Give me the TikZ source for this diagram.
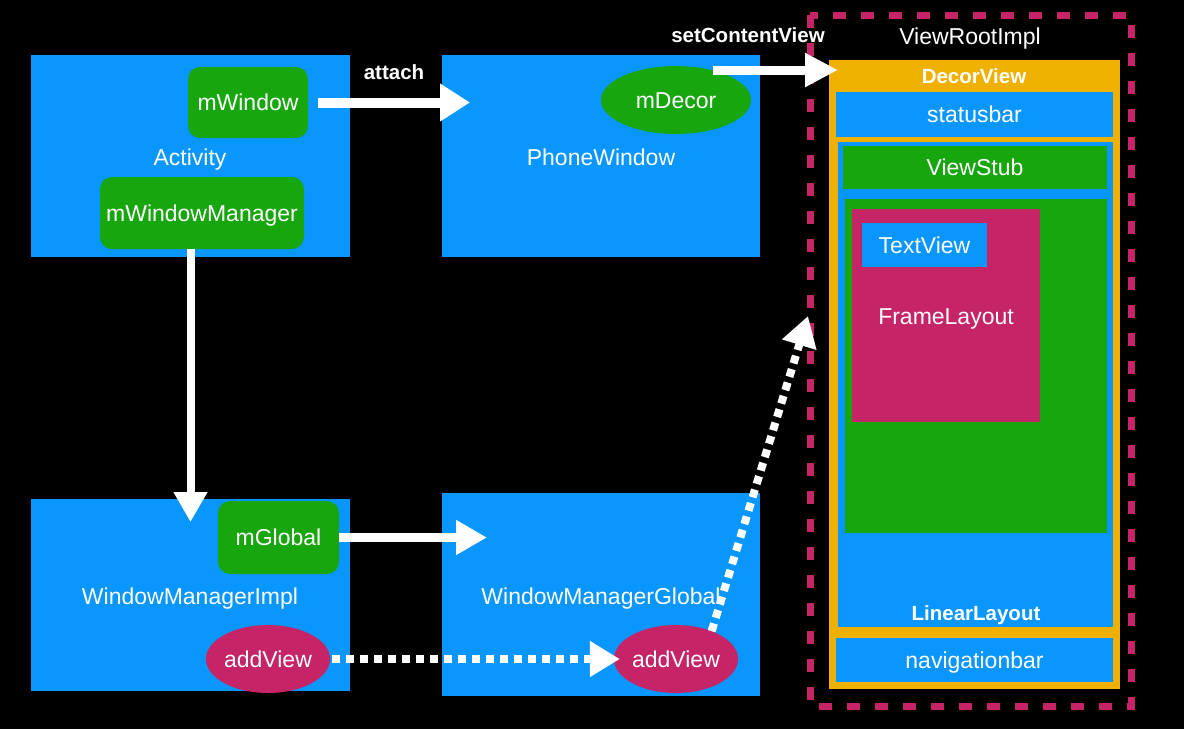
\documentclass[tikz,border=0pt]{standalone}
\usepackage{fontspec}
\setmainfont{Liberation Sans}
\usetikzlibrary{arrows.meta,shapes.geometric}
\definecolor{bblue}{RGB}{10,150,255}
\definecolor{bgreen}{RGB}{24,166,14}
\definecolor{bmag}{RGB}{197,36,102}
\definecolor{bgold}{RGB}{240,176,0}
\tikzset{
 txt/.style={text=white,font=\fontsize{23}{27}\selectfont,inner sep=0pt,outer sep=0pt,text height=17pt,text depth=0.5pt},
 btxt/.style={text=white,font=\fontsize{20.5}{24}\selectfont\bfseries,inner sep=0pt,outer sep=0pt,text height=15pt,text depth=0.3pt},
 bigbox/.style={fill=bblue,txt},
 member/.style={fill=bgreen,rounded corners=12pt,txt},
 oval/.style={ellipse,txt},
 flatrect/.style={inner sep=0pt,outer sep=0pt},
 bigarrow/.style={draw=white,line width=10pt,-{Triangle[length=30pt,width=36pt]}},
 dotarrow/.style={draw=white,line width=8pt,dash pattern=on 8pt off 6pt,-{Triangle[length=30pt,width=34pt]}},
 viewroot/.style={draw=bmag,line width=7pt,dash pattern=on 13pt off 15pt},
}
\begin{document}
\begin{tikzpicture}[x=1pt,y=-1pt]
\fill[black] (0,0) rectangle (1184,729);
\useasboundingbox (0,0) rectangle (1184,729);

% top row
\node[bigbox,minimum width=319pt,minimum height=202pt] (act) at (190.5,156) {};
\node[txt] (actlbl) at (190,157) {Activity};
\node[member,minimum width=120pt,minimum height=71pt] (mwin) at (248,102.5) {mWindow};
\node[member,minimum width=204pt,minimum height=72pt] (mwm) at (202,213) {mWindowManager};

\node[bigbox,minimum width=318pt,minimum height=202pt] (pw) at (601,156) {};
\node[txt] (pwlbl) at (601,157) {PhoneWindow};
\node[oval,fill=bgreen,minimum width=150pt,minimum height=68pt] (mdecor) at (676,100) {mDecor};

% bottom row
\node[bigbox,minimum width=319pt,minimum height=192pt] (wmi) at (190.5,595) {};
\node[txt] (wmilbl) at (190,596) {WindowManagerImpl};
\node[member,minimum width=121pt,minimum height=73pt] (mg) at (278.5,537.5) {mGlobal};
\node[oval,fill=bmag,minimum width=120pt,minimum height=68pt] (av1) at (268,659) {addView};

\node[bigbox,minimum width=318pt,minimum height=203pt] (wmg) at (601,594.5) {};
\node[txt] (wmglbl) at (601,596) {WindowManagerGlobal};
\node[oval,fill=bmag,minimum width=120pt,minimum height=68pt] (av2) at (676,659) {addView};

% view hierarchy
\node[flatrect,fill=bgold,minimum width=291pt,minimum height=629pt] (decor) at (974.5,374.5) {};
\node[btxt] (decorlbl) at (974,76) {DecorView};
\node[flatrect,fill=bblue,minimum width=277pt,minimum height=45pt,txt] (status) at (974.5,114.5) {statusbar};
\node[flatrect,fill=bblue,minimum width=275pt,minimum height=485pt] (linear) at (975.5,384.5) {};
\node[btxt] (linearlbl) at (976,613) {LinearLayout};
\node[flatrect,fill=bgreen,minimum width=264pt,minimum height=43pt,txt] (stub) at (975,167.5) {ViewStub};
\node[flatrect,fill=bgreen,minimum width=262pt,minimum height=334pt] (content) at (976,366) {};
\node[flatrect,fill=bmag,minimum width=188pt,minimum height=213pt] (frame) at (946,315.5) {};
\node[txt] (framelbl) at (946,316) {FrameLayout};
\node[flatrect,fill=bblue,minimum width=125pt,minimum height=44pt,txt] (tv) at (924.5,245) {TextView};
\node[flatrect,fill=bblue,minimum width=277pt,minimum height=44pt,txt] (nav) at (974.5,660) {navigationbar};

\draw[viewroot] (810,15) rectangle (1131,706);
\node[txt] (vrilbl) at (970,36) {ViewRootImpl};

% connectors
\draw[bigarrow,shorten <=10pt,shorten >=-28pt] (mwin.east) -- (mwin.east -| pw.west);
\node[btxt] (attachlbl) at (394,72) {attach};

\coordinate (scvstart) at (713,70);
\draw[bigarrow,line width=9pt,-{Triangle[length=33pt,width=32pt]},shorten >=-9pt] (scvstart) -- (scvstart -| decor.west);
\node[btxt] (scvlbl) at (748,35) {setContentView};

\draw[bigarrow,line width=8pt,-{Triangle[length=30pt,width=32pt]},shorten >=-23pt] (mwm.south -| act.center) -- (wmi.north -| act.center);

\draw[bigarrow,line width=9pt,-{Triangle[length=31pt,width=33pt]},shorten >=-45pt] (mg.east) -- (mg.east -| wmg.west);

\draw[dotarrow,shorten <=2pt,shorten >=-6pt] (av1.east) -- (av2.west);

\coordinate (dtip) at (808,316);
\draw[dotarrow] (av2.38) -- (dtip);
\end{tikzpicture}
\end{document}
